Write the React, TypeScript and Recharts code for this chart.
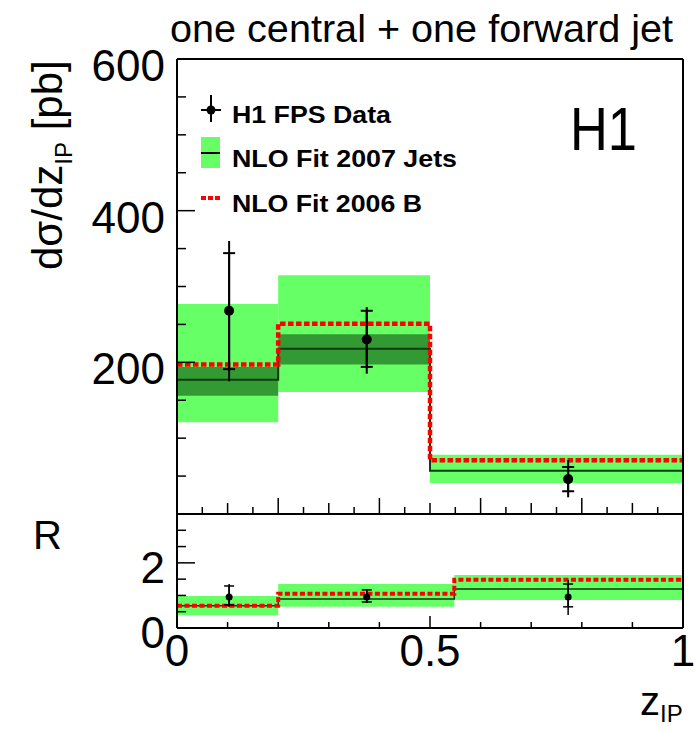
import React from 'react';
import {
  ComposedChart,
  XAxis,
  YAxis,
  Line,
  Scatter,
  ErrorBar,
  ReferenceArea,
} from 'recharts';

const FONT = '"Liberation Sans", Arial, Helvetica, sans-serif';

// upper panel: dsigma/dz_IP [pb]
const topEdges = [0, 0.2, 0.5, 1];
const topBandLow = [121, 161, 41];
const topBandHigh = [277, 315, 78];
const topInnerLow = [156, 197];
const topInnerHigh = [194, 237];
const topCentral = [177, 218, 57];
const topFit2006 = [197, 251, 71];

const dataX = [0.103, 0.375, 0.773];
const topData = [268, 230, 46];
const topStatUp = [76, 38, 16];
const topStatDown = [77, 36, 16];
const topTotUp = [92, 43, 25];
const topTotDown = [93, 45, 24];

// lower panel: ratio R
const ratioEdges = [0, 0.2, 0.548, 1];
const ratioBandLow = [0.4, 0.65, 0.86];
const ratioBandHigh = [0.98, 1.35, 1.63];
const ratioCentral = [0.68, 0.89, 1.2];
const ratioFit2006 = [0.68, 1.05, 1.48];
const ratioData = [0.95, 0.95, 0.95];
const ratioStatUp = [0.34, 0.22, 0.4];
const ratioStatDown = [0.24, 0.15, 0.3];
const ratioTotUp = [0.4, 0.25, 0.53];
const ratioTotDown = [0.3, 0.18, 0.55];

// ticks
const topYTicks = [50, 100, 150, 200, 250, 300, 350, 400, 450, 500, 550, 600];
const topYLabels = [200, 400, 600];
const ratioYTicks = [0, 0.5, 1, 1.5, 2, 2.5, 3];
const ratioYLabels = [0, 2];
const topXTicks = [0.05, 0.1, 0.15, 0.2, 0.25, 0.3, 0.35, 0.4, 0.45, 0.5, 0.55, 0.6, 0.65, 0.7, 0.75, 0.8, 0.85, 0.9, 0.95];
const ratioXTicks = [0, 0.1, 0.2, 0.3, 0.4, 0.5, 0.6, 0.7, 0.8, 0.9, 1];
const ratioXLabels = [0, 0.5, 1];

const LIGHT = '#66ff66';
const DARK = '#339933';
const CENTRAL = '#0d3d0d';
const RED = '#ff0000';

const stepData = (edges: number[], vals: number[]) =>
  edges.map((x, i) => ({ x, y: vals[Math.min(i, vals.length - 1)] }));

const pointData = (
  ys: number[],
  sUp: number[],
  sDn: number[],
  tUp: number[],
  tDn: number[]
) =>
  dataX.map((x, i) => ({
    x,
    y: ys[i],
    stat: [sDn[i], sUp[i]],
    tot: [tDn[i], tUp[i]],
  }));

const topPoints = pointData(topData, topStatUp, topStatDown, topTotUp, topTotDown);
const ratioPoints = pointData(ratioData, ratioStatUp, ratioStatDown, ratioTotUp, ratioTotDown);

const near = (a: number, b: number) => Math.abs(a - b) < 1e-6;

const YTick = (props: any) => {
  const { x, y, payload, labels, major, labelDy } = props;
  const v = payload.value;
  const isMajor = major(v);
  const hasLabel = labels.some((l: number) => near(l, v));
  return (
    <g>
      <line x1={x} x2={x + (isMajor ? 18 : 9)} y1={y} y2={y} stroke="#000" strokeWidth={1.5} />
      {hasLabel && (
        <text x={x - 12} y={y + labelDy} textAnchor="end" fontSize={44} fontFamily={FONT} fill="#000">
          {v}
        </text>
      )}
    </g>
  );
};

const XTick = (props: any) => {
  const { x, y, payload, labels, len } = props;
  const v = payload.value;
  const hasLabel = labels.some((l: number) => near(l, v));
  return (
    <g>
      <line x1={x} x2={x} y1={y} y2={y - len(v)} stroke="#000" strokeWidth={1.5} />
      {hasLabel && (
        <text x={x} y={y + 38} textAnchor="middle" fontSize={44} fontFamily={FONT} fill="#000">
          {v}
        </text>
      )}
    </g>
  );
};

const dot = (r: number) => (p: any) => <circle cx={p.cx} cy={p.cy} r={r} fill="#000" />;

const frame = { stroke: '#000', strokeWidth: 2 };

const layer: React.CSSProperties = { position: 'absolute', left: 0, top: 0 };

const W = 696;
const H = 741;

const topXLen = (v: number) => {
  const k = Math.round(v * 20);
  return k % 4 === 0 ? 16 : k % 2 === 0 ? 11 : 7;
};

export default function App() {
  return (
    <div style={{ position: 'absolute', left: 0, top: 0, width: W, height: H, background: '#fff' }}>
      {/* upper panel */}
      <div style={layer}>
        <ComposedChart width={W} height={H} margin={{ top: 58, right: 12, left: 176, bottom: H - 515 }}>
          <XAxis
            dataKey="x"
            type="number"
            domain={[0, 1]}
            ticks={topXTicks}
            interval={0}
            height={1}
            tickSize={0}
            tickMargin={0}
            tickLine={false}
            axisLine={frame}
            tick={<XTick labels={[]} len={topXLen} />}
          />
          <XAxis xAxisId="top" orientation="top" type="number" domain={[0, 1]} height={1} tick={false} tickLine={false} axisLine={frame} />
          <YAxis
            dataKey="y"
            type="number"
            domain={[0, 600]}
            ticks={topYTicks}
            interval={0}
            width={1}
            tickSize={0}
            tickMargin={0}
            tickLine={false}
            axisLine={frame}
            tick={<YTick labels={topYLabels} major={(v: number) => v % 200 === 0} labelDy={22} />}
          />
          <YAxis yAxisId="right" orientation="right" type="number" domain={[0, 600]} width={1} tick={false} tickLine={false} axisLine={frame} />
          {topEdges.slice(0, -1).map((x, i) => (
            <ReferenceArea key={`ol${i}`} x1={x} x2={topEdges[i + 1]} y1={topBandLow[i]} y2={topBandHigh[i]} fill={LIGHT} fillOpacity={1} stroke="none" />
          ))}
          {topInnerLow.map((lo, i) => (
            <ReferenceArea key={`il${i}`} x1={topEdges[i]} x2={topEdges[i + 1]} y1={lo} y2={topInnerHigh[i]} fill={DARK} fillOpacity={1} stroke="none" />
          ))}
          <Line data={stepData(topEdges, topCentral)} dataKey="y" type="stepAfter" stroke={CENTRAL} strokeWidth={2} dot={false} isAnimationActive={false} />
          <Line data={stepData(topEdges, topFit2006)} dataKey="y" type="stepAfter" stroke={RED} strokeWidth={4.5} strokeDasharray="5.5 2.5" dot={false} isAnimationActive={false} />
          <Scatter data={topPoints} dataKey="y" shape={dot(5)} isAnimationActive={false}>
            <ErrorBar dataKey="tot" direction="y" width={0} stroke="#000" strokeWidth={2} isAnimationActive={false} />
            <ErrorBar dataKey="stat" direction="y" width={6} stroke="#000" strokeWidth={2} isAnimationActive={false} />
          </Scatter>
        </ComposedChart>
      </div>

      {/* lower panel */}
      <div style={layer}>
        <ComposedChart width={W} height={H} margin={{ top: 513, right: 12, left: 176, bottom: H - 629 }}>
          <XAxis
            dataKey="x"
            type="number"
            domain={[0, 1]}
            ticks={ratioXTicks}
            interval={0}
            height={1}
            tickSize={0}
            tickMargin={0}
            tickLine={false}
            axisLine={frame}
            tick={<XTick labels={ratioXLabels} len={(v: number) => (near(v, 0) || near(v, 0.5) || near(v, 1) ? 12 : 6)} />}
          />
          <XAxis xAxisId="top" orientation="top" type="number" domain={[0, 1]} height={1} tick={false} tickLine={false} axisLine={frame} />
          <YAxis
            dataKey="y"
            type="number"
            domain={[0, 3.5]}
            ticks={ratioYTicks}
            interval={0}
            width={1}
            tickSize={0}
            tickMargin={0}
            tickLine={false}
            axisLine={frame}
            tick={<YTick labels={ratioYLabels} major={(v: number) => v === 0 || v === 2} labelDy={20} />}
          />
          <YAxis yAxisId="right" orientation="right" type="number" domain={[0, 3.5]} width={1} tick={false} tickLine={false} axisLine={frame} />
          {ratioEdges.slice(0, -1).map((x, i) => (
            <ReferenceArea key={`rb${i}`} x1={x} x2={ratioEdges[i + 1]} y1={ratioBandLow[i]} y2={ratioBandHigh[i]} fill={LIGHT} fillOpacity={1} stroke="none" />
          ))}
          <Line data={stepData(ratioEdges, ratioCentral)} dataKey="y" type="stepAfter" stroke={CENTRAL} strokeWidth={1.5} dot={false} isAnimationActive={false} />
          <Line data={stepData(ratioEdges, ratioFit2006)} dataKey="y" type="stepAfter" stroke={RED} strokeWidth={4} strokeDasharray="5 2.5" dot={false} isAnimationActive={false} />
          <Scatter data={ratioPoints} dataKey="y" shape={dot(3.5)} isAnimationActive={false}>
            <ErrorBar dataKey="tot" direction="y" width={0} stroke="#000" strokeWidth={1.5} isAnimationActive={false} />
            <ErrorBar dataKey="stat" direction="y" width={5} stroke="#000" strokeWidth={1.5} isAnimationActive={false} />
          </Scatter>
        </ComposedChart>
      </div>

      {/* titles, legend and labels */}
      <svg width={W} height={H} style={layer} fontFamily={FONT}>
        <text x={170} y={42} fontSize={39} textLength={503} lengthAdjust="spacingAndGlyphs" fill="#000">
          one central + one forward jet
        </text>
        <text x={570} y={150} fontSize={62} textLength={67} lengthAdjust="spacingAndGlyphs" fill="#000">
          H1
        </text>
        <text transform="translate(62,270) rotate(-90)" fontSize={42} fill="#000">
          dσ/dz<tspan fontSize={24} dy={10}>IP</tspan>
          <tspan dy={-10}> [pb]</tspan>
        </text>
        <text x={33} y={549} fontSize={40} fill="#000">R</text>
        <text x={640} y={715} fontSize={40} fill="#000">
          z<tspan fontSize={24} dy={7}>IP</tspan>
        </text>

        {/* legend */}
        <line x1={211} x2={211} y1={95} y2={122} stroke="#000" strokeWidth={2} />
        <line x1={201} x2={221} y1={110} y2={110} stroke="#000" strokeWidth={2} />
        <circle cx={211} cy={110} r={4.5} fill="#000" />
        <text x={232} y={123} fontSize={24} fontWeight="bold" textLength={159} lengthAdjust="spacingAndGlyphs" fill="#000">
          H1 FPS Data
        </text>

        <rect x={201} y={137} width={19} height={31} fill={LIGHT} />
        <line x1={201} x2={220} y1={153} y2={153} stroke="#000" strokeWidth={2} />
        <text x={232} y={167} fontSize={24} fontWeight="bold" textLength={225} lengthAdjust="spacingAndGlyphs" fill="#000">
          NLO Fit 2007 Jets
        </text>

        <line x1={201} x2={220} y1={198} y2={198} stroke={RED} strokeWidth={4} strokeDasharray="5 2" />
        <text x={232} y={212} fontSize={24} fontWeight="bold" textLength={190} lengthAdjust="spacingAndGlyphs" fill="#000">
          NLO Fit 2006 B
        </text>
      </svg>
    </div>
  );
}
